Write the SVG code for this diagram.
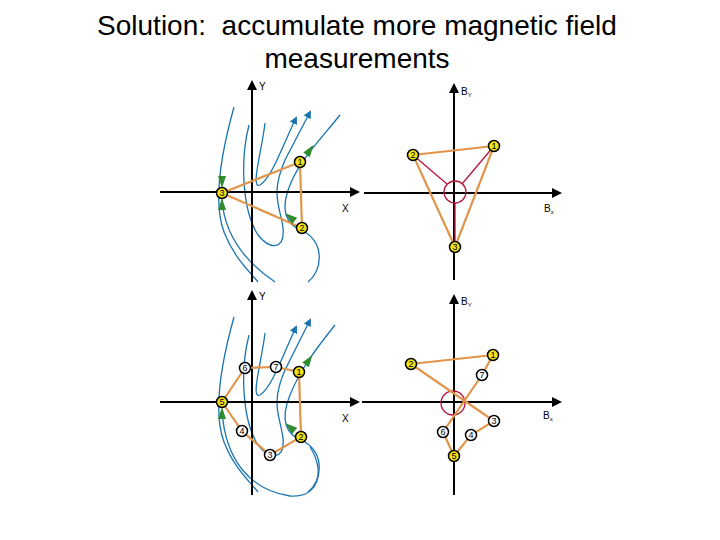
<svg xmlns="http://www.w3.org/2000/svg" width="720" height="540" viewBox="0 0 720 540">
<defs>
<marker id="ah" markerWidth="10" markerHeight="10" refX="8" refY="5" orient="auto" markerUnits="userSpaceOnUse"><path d="M0,0 L10,5 L0,10 z" fill="#000"/></marker>
<marker id="bh" markerWidth="8" markerHeight="8" refX="6" refY="4" orient="auto" markerUnits="userSpaceOnUse"><path d="M0,0 L8,4 L0,8 z" fill="#1a74b0"/></marker>
<g id="gArr"><path d="M-6,-4 L6,0 L-6,4 z" fill="#2e8b2e"/></g>
</defs>
<style>
.ax{stroke:#000;stroke-width:2;fill:none}
.fl{stroke:#1a74b0;stroke-width:1.3;fill:none}
.or{stroke:#e0954a;stroke-width:2.2;fill:none}
.rd{stroke:#b8143c;stroke-width:1.3;fill:none}
.ny{fill:#f2e21a;stroke:#000;stroke-width:1.5}
.nw{fill:#fff;stroke:#000;stroke-width:1.5}
.t{font-family:'Liberation Sans',Arial,sans-serif;fill:#000}
.s{font-size:10px}
.nt{font-size:9px;text-anchor:middle}
</style>
<rect width="720" height="540" fill="#fff"/>
<text class="t" x="357" y="35" font-size="28" text-anchor="middle" xml:space="preserve">Solution:  accumulate more magnetic field</text>
<text class="t" x="357" y="68" font-size="28" text-anchor="middle">measurements</text>

<g id="panel-tl">
<g id="connectors-tl">
<path class="fl" d="M234,107 C222,150 212,200 224,232 C234,258 250,272 258,282"/>
<path class="fl" d="M249,125 C240,160 242,210 258,235 C270,250 285,250 283,228 C280,205 270,195 285,160 L310,112" marker-end="url(#bh)"/>
<path class="fl" d="M265,123 C262,150 250,190 260,185 C272,178 285,140 296,118" marker-end="url(#bh)"/>
<path class="fl" d="M340,115 C320,140 300,160 290,185 C280,210 285,225 305,232 C325,245 322,270 308,282"/>
<path class="fl" d="M222,200 C225,240 250,265 275,282"/>
<line class="ax" x1="160" y1="192" x2="358" y2="192" marker-end="url(#ah)"/>
<line class="ax" x1="252" y1="282" x2="252" y2="82" marker-end="url(#ah)"/>
<path class="or" d="M222,193 L300,162 L302,228 Z"/>
<use href="#gArr" transform="translate(222,182) rotate(90)"/>
<use href="#gArr" transform="translate(222,204) rotate(-90)"/>
<use href="#gArr" transform="translate(310,150) rotate(-55)"/>
<use href="#gArr" transform="translate(290,217) rotate(-140)"/>
</g>
<g id="n-tl-3"><circle class="ny" cx="222" cy="193" r="5.5"/><text class="t nt" x="222" y="196">3</text></g>
<g id="n-tl-1"><circle class="ny" cx="300" cy="162" r="5.5"/><text class="t nt" x="300" y="165">1</text></g>
<g id="n-tl-2"><circle class="ny" cx="302" cy="228" r="5.5"/><text class="t nt" x="302" y="231">2</text></g>
<text class="t s" x="259" y="90">Y</text>
<text class="t s" x="342" y="212">X</text>
</g>

<g id="panel-tr">
<g id="connectors-tr">
<line class="ax" x1="364" y1="193" x2="560" y2="193" marker-end="url(#ah)"/>
<line class="ax" x1="454" y1="280" x2="454" y2="85" marker-end="url(#ah)"/>
<path class="rd" d="M413,155 L447,184 M494,146 L462,184 M455,203 L455,247"/>
<circle class="rd" cx="455" cy="192" r="11" stroke-width="2"/>
<path class="or" d="M413,155 L494,146 L455,247 Z"/>
</g>
<g id="n-tr-2"><circle class="ny" cx="413" cy="155" r="5.5"/><text class="t nt" x="413" y="158">2</text></g>
<g id="n-tr-1"><circle class="ny" cx="494" cy="146" r="5.5"/><text class="t nt" x="494" y="149">1</text></g>
<g id="n-tr-3"><circle class="ny" cx="455" cy="247" r="5.5"/><text class="t nt" x="455" y="250">3</text></g>
<text class="t s" x="461" y="95">B<tspan font-size="6" dy="2">Y</tspan></text>
<text class="t s" x="544" y="212">B<tspan font-size="6" dy="2">x</tspan></text>
</g>

<g id="panel-bl">
<g id="connectors-bl">
<path class="fl" d="M234,317 C222,360 212,410 224,442 C234,468 250,482 258,492"/>
<path class="fl" d="M249,335 C240,370 242,420 258,445 C270,460 285,460 283,438 C280,415 270,405 285,370 L310,320" marker-end="url(#bh)"/>
<path class="fl" d="M265,333 C262,360 250,400 260,395 C272,388 285,350 296,327" marker-end="url(#bh)"/>
<path class="fl" d="M335,325 C315,350 300,370 290,395 C280,420 285,435 305,442 C325,455 322,480 308,492"/>
<path class="fl" d="M222,410 C225,460 250,490 290,496 C320,498 325,470 310,447"/>
<line class="ax" x1="160" y1="402" x2="358" y2="402" marker-end="url(#ah)"/>
<line class="ax" x1="252" y1="495" x2="252" y2="292" marker-end="url(#ah)"/>
<path class="or" d="M222,402 L245,368 L276,367 L299,372 L301,437 L270,455 L242,431 Z"/>
<use href="#gArr" transform="translate(222,413) rotate(-90)"/>
<use href="#gArr" transform="translate(309,360) rotate(-55)"/>
<use href="#gArr" transform="translate(290,427) rotate(-140)"/>
</g>
<g id="n-bl-5"><circle class="ny" cx="222" cy="402" r="5.5"/><text class="t nt" x="222" y="405">5</text></g>
<g id="n-bl-6"><circle class="nw" cx="245" cy="368" r="5.5"/><text class="t nt" x="245" y="371">6</text></g>
<g id="n-bl-7"><circle class="nw" cx="276" cy="367" r="5.5"/><text class="t nt" x="276" y="370">7</text></g>
<g id="n-bl-1"><circle class="ny" cx="299" cy="372" r="5.5"/><text class="t nt" x="299" y="375">1</text></g>
<g id="n-bl-2"><circle class="ny" cx="301" cy="437" r="5.5"/><text class="t nt" x="301" y="440">2</text></g>
<g id="n-bl-3"><circle class="nw" cx="270" cy="455" r="5.5"/><text class="t nt" x="270" y="458">3</text></g>
<g id="n-bl-4"><circle class="nw" cx="242" cy="431" r="5.5"/><text class="t nt" x="242" y="434">4</text></g>
<text class="t s" x="259" y="300">Y</text>
<text class="t s" x="342" y="422">X</text>
</g>

<g id="panel-br">
<g id="connectors-br">
<line class="ax" x1="362" y1="402" x2="560" y2="402" marker-end="url(#ah)"/>
<line class="ax" x1="454" y1="495" x2="454" y2="296" marker-end="url(#ah)"/>
<circle class="rd" cx="453" cy="403" r="12" stroke-width="2"/>
<path class="or" d="M411,364 L493,355 L482,375 L443,432 L454,456 L471,435 L494,421 Z"/>
</g>
<g id="n-br-2"><circle class="ny" cx="411" cy="364" r="5.5"/><text class="t nt" x="411" y="367">2</text></g>
<g id="n-br-1"><circle class="ny" cx="493" cy="355" r="5.5"/><text class="t nt" x="493" y="358">1</text></g>
<g id="n-br-7"><circle class="nw" cx="482" cy="375" r="5.5"/><text class="t nt" x="482" y="378">7</text></g>
<g id="n-br-3"><circle class="nw" cx="494" cy="421" r="5.5"/><text class="t nt" x="494" y="424">3</text></g>
<g id="n-br-4"><circle class="nw" cx="471" cy="435" r="5.5"/><text class="t nt" x="471" y="438">4</text></g>
<g id="n-br-5"><circle class="ny" cx="454" cy="456" r="5.5"/><text class="t nt" x="454" y="459">5</text></g>
<g id="n-br-6"><circle class="nw" cx="443" cy="432" r="5.5"/><text class="t nt" x="443" y="435">6</text></g>
<text class="t s" x="461" y="305">B<tspan font-size="6" dy="2">Y</tspan></text>
<text class="t s" x="543" y="419">B<tspan font-size="6" dy="2">x</tspan></text>
</g>
</svg>
